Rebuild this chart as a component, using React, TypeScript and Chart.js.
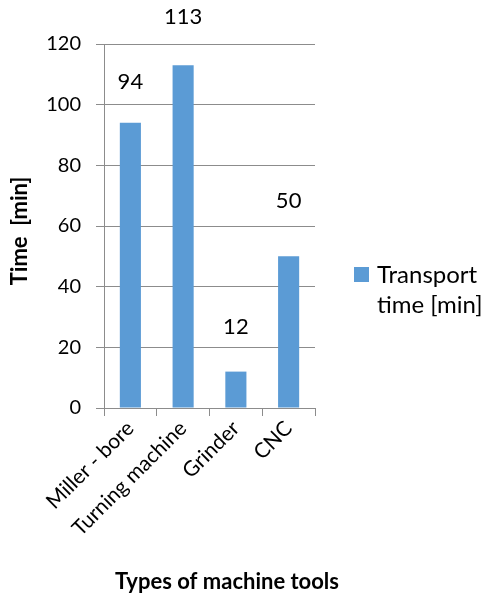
import React, { useEffect, useRef } from "react";
import { Chart, registerables } from "chart.js";

Chart.register(...registerables);

const categories = ["Miller - bore", "Turning machine", "Grinder", "CNC"];
const transportTime = [94, 113, 12, 50];
const yMin = 0;
const yMax = 120;
const yStep = 20;
const seriesName = "Transport time [min]";
const legendLines = ["Transport", "time [min]"];
const yTitle = "Time  [min]";
const xTitle = "Types of machine tools";
const labelOffsets = [41, 48, 45, 55];

const BAR = "#5B9BD5";
const GRID = "#8c8c8c";
const FONT = "Lato, 'Open Sans', sans-serif";

const overlay = {
  id: "overlay",
  afterDatasetsDraw(chart: any) {
    const ctx = chart.ctx as CanvasRenderingContext2D;
    const meta = chart.getDatasetMeta(0);
    const ca = chart.chartArea;
    ctx.save();
    ctx.fillStyle = "#000";
    ctx.textAlign = "center";
    ctx.textBaseline = "middle";
    ctx.font = `22px ${FONT}`;
    meta.data.forEach((bar: any, i: number) => {
      ctx.fillText(String(transportTime[i]), bar.x, bar.y - labelOffsets[i]);
    });

    // legend
    const sqX = ca.right + 39;
    const sqY = 267;
    ctx.fillStyle = BAR;
    ctx.fillRect(sqX, sqY, 15, 15);
    ctx.fillStyle = "#000";
    ctx.textAlign = "left";
    ctx.textBaseline = "alphabetic";
    ctx.font = `24px ${FONT}`;
    ctx.fillText(legendLines[0], sqX + 23, 283);
    ctx.fillText(legendLines[1], sqX + 23, 313);

    // axis titles
    ctx.font = `bold 22px ${FONT}`;
    ctx.textAlign = "center";
    ctx.textBaseline = "middle";
    ctx.fillText(xTitle, 227, 582);
    ctx.save();
    ctx.translate(20, 231);
    ctx.rotate(-Math.PI / 2);
    ctx.fillText(yTitle, 0, 0);
    ctx.restore();
    ctx.restore();
  },
};

export default function App() {
  const ref = useRef<HTMLCanvasElement | null>(null);
  useEffect(() => {
    document.body.style.margin = "0";
    if (!ref.current) return;
    const chart = new Chart(ref.current, {
      type: "bar",
      data: {
        labels: categories,
        datasets: [
          {
            label: seriesName,
            data: transportTime,
            backgroundColor: BAR,
            barPercentage: 0.4,
            categoryPercentage: 1,
          },
        ],
      },
      options: {
        responsive: false,
        animation: false,
        devicePixelRatio: 1,
        layout: { padding: { top: 44, right: 179, left: 0, bottom: 0 } },
        plugins: {
          legend: { display: false },
          tooltip: { enabled: false },
        },
        scales: {
          x: {
            offset: true,
            grid: {
              display: true,
              drawOnChartArea: false,
              drawTicks: true,
              tickLength: 8,
              color: GRID,
              offset: true,
            },
            border: { color: GRID },
            ticks: {
              minRotation: 45,
              maxRotation: 45,
              padding: 0,
              color: "#000",
              font: { family: FONT, size: 21 },
            },
            afterFit(scale: any) {
              scale.height = 191;
            },
          },
          y: {
            min: yMin,
            max: yMax,
            ticks: {
              stepSize: yStep,
              padding: 15,
              color: "#000",
              font: { family: FONT, size: 20 },
            },
            grid: { color: GRID, tickLength: 8 },
            border: { color: GRID },
            afterFit(scale: any) {
              scale.width = 104;
            },
          },
        },
      },
      plugins: [overlay],
    });
    return () => chart.destroy();
  }, []);
  return <canvas ref={ref} width={494} height={599} style={{ display: "block" }} />;
}
